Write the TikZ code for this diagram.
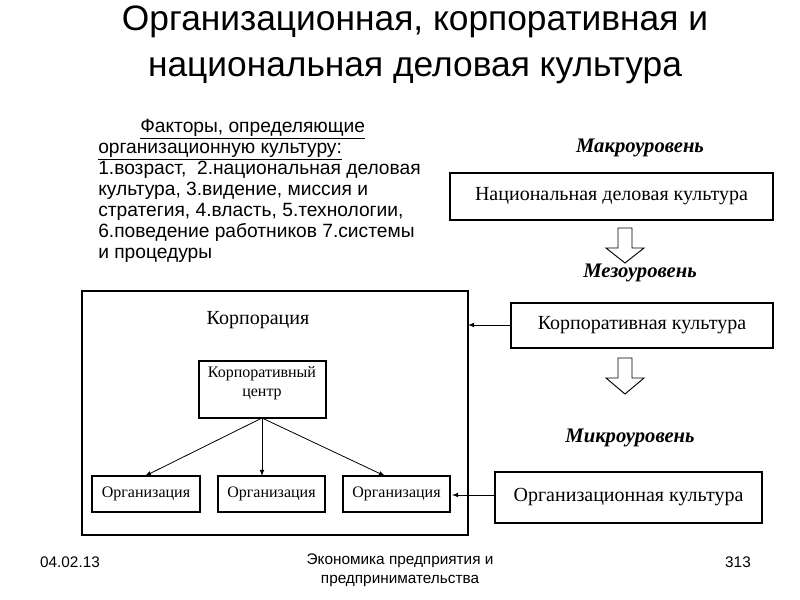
\documentclass[tikz,border=0pt]{standalone}
\usepackage{fontspec}
\setmainfont{Liberation Serif}
\newfontfamily\arial{Liberation Sans}
\begin{document}
\begin{tikzpicture}[x=0.75pt,y=-0.75pt,
  box/.style={draw,line width=0.8pt,inner sep=0pt},
  lbl/.style={font=\fontsize{15}{17}\selectfont},
  sml/.style={font=\fontsize{12}{14}\selectfont},
  lvl/.style={font=\fontsize{15.5}{17}\selectfont\bfseries\itshape},
  fac/.style={anchor=base west,inner sep=0pt,font=\arial\fontsize{14.4}{17}\selectfont},
  foot/.style={font=\arial\fontsize{11.5}{14}\selectfont,align=center},
  arr/.style={-latex,line width=0.6pt},
  hollow/.style={draw,fill=white,line width=0.7pt}]
\useasboundingbox (0,0) rectangle (800,600);
\node[font=\arial\fontsize{26.5}{34.5}\selectfont,align=center] (title) at (415,45)
  {Организационная, корпоративная и\\национальная деловая культура};
\node[fac] (f1) at (140,132) {\underline{Факторы, определяющие}};
\node[fac] (f2) at (98,153) {\underline{организационную культуру:}};
\node[fac] (f3) at (98,174) {1.возраст,\ \ 2.национальная деловая};
\node[fac] (f4) at (98,195) {культура, 3.видение, миссия и};
\node[fac] (f5) at (98,216) {стратегия, 4.власть, 5.технологии,};
\node[fac] (f6) at (98,237) {6.поведение работников 7.системы};
\node[fac] (f7) at (98,258) {и процедуры};
\node[lvl] (macro) at (640,148) {Макроуровень};
\node[lvl] (meso) at (640,273) {Мезоуровень};
\node[lvl] (micro) at (630,438) {Микроуровень};
\draw[box] (450,173) rectangle node[lbl] (nat) {Национальная деловая культура} (773,220);
\draw[box] (511,303) rectangle node[lbl] (corpc) {Корпоративная культура} (773,348);
\draw[box] (495,472) rectangle node[lbl] (orgc) {Организационная культура} (762,523);
\coordinate (natL) at (511,325);
\coordinate (orgL) at (495,495);
\draw[hollow] (618,228) -- (632,228) -- (632,248) -- (644,248) -- (625,263) -- (606,248) -- (618,248) -- cycle;
\draw[hollow] (618,358) -- (632,358) -- (632,378) -- (644,378) -- (625,394) -- (606,378) -- (618,378) -- cycle;
\draw[box] (82,291) rectangle (468,535);
\coordinate (corpR) at (468,325);
\coordinate (corpR2) at (452,495);
\node[lbl] (corp) at (258,320) {Корпорация};
\draw[box] (199,361) rectangle (326,418);
\node[sml,align=center] (cc) at (262,383) {Корпоративный\\центр};
\coordinate (ccB) at (262,418);
\draw[box] (92,476) rectangle node[sml] (o1) {Организация} (200,512);
\draw[box] (218,476) rectangle node[sml] (o2) {Организация} (325,512);
\draw[box] (343,476) rectangle node[sml] (o3) {Организация} (450,512);
\coordinate (o1T) at (145,476);
\coordinate (o2T) at (262,476);
\coordinate (o3T) at (385,476);
\draw[arr] (natL) -- (corpR);
\draw[arr] (orgL) -- (corpR2);
\draw[arr] (ccB) -- (o1T);
\draw[arr] (ccB) -- (o2T);
\draw[arr] (ccB) -- (o3T);
\node[foot] (d) at (70,562) {04.02.13};
\node[foot] (ec) at (400,570) {Экономика предприятия и\\предпринимательства};
\node[foot] (pg) at (738,562) {313};
\end{tikzpicture}
\end{document}
